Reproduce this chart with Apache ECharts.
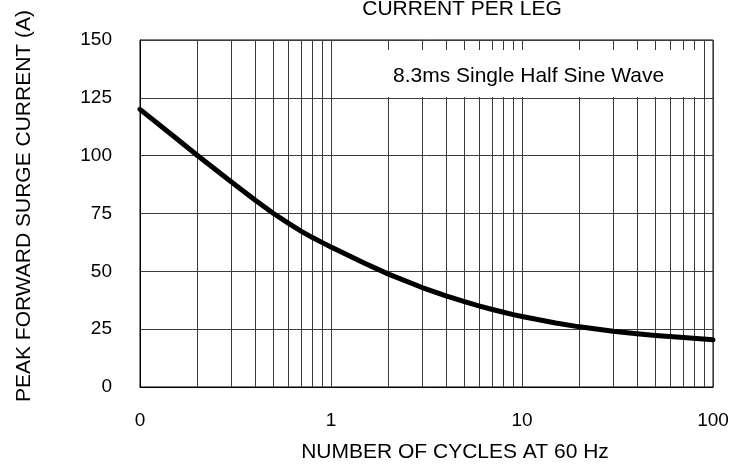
<!DOCTYPE html>
<html>
<head>
<meta charset="utf-8">
<script src="https://cdn.jsdelivr.net/npm/echarts@6/dist/echarts.min.js"></script>
<style>
html,body{margin:0;padding:0;background:#fff;}
#c{width:738px;height:467px;}
</style>
</head>
<body>
<div id="c"></div>
<script>
// Data
var cycles = [0.1, 0.15, 0.2, 0.3, 0.4, 0.5, 0.6, 0.7, 0.8, 0.9, 1, 1.5, 2, 3, 4, 5, 6, 7, 8, 9, 10, 15, 20, 30, 40, 50, 70, 100];
var surgeCurrent = [120, 108.4, 100.1, 88.7, 80.8, 75.0, 70.7, 67.3, 64.6, 62.4, 60.5, 53.5, 48.8, 43.0, 39.4, 36.9, 35.0, 33.5, 32.3, 31.3, 30.5, 27.7, 26.0, 24.1, 23.0, 22.3, 21.35, 20.4];
var minorGridX = [0.2, 0.3, 0.4, 0.5, 0.6, 0.7, 0.8, 0.9, 2, 3, 4, 5, 6, 7, 8, 9, 20, 30, 40, 50, 60, 70, 80, 90];
var yTicks = [0, 25, 50, 75, 100, 125, 150];
var titleText = 'CURRENT PER LEG';
var xName = 'NUMBER OF CYCLES AT 60 Hz';
var yName = 'PEAK FORWARD SURGE CURRENT (A)';
var noteText = '8.3ms Single Half Sine Wave';

var FONT = '"Liberation Sans", Arial, sans-serif';
var GRID_COLOR = '#3a3a3a';

var chart = echarts.init(document.getElementById('c'), null, {renderer: 'canvas'});
var pts = cycles.map(function (c, i) { return [c, surgeCurrent[i]]; });

chart.setOption({
  animation: false,
  backgroundColor: '#fff',
  grid: {left: 140, right: 25, top: 40, bottom: 80, show: true, borderColor: '#000', borderWidth: 1, backgroundColor: 'transparent'},
  xAxis: {
    type: 'log', logBase: 10, min: 0.1, max: 100,
    axisLine: {show: true, lineStyle: {color: '#000', width: 1}},
    axisTick: {show: false},
    axisLabel: {
      show: true, margin: 24, color: '#000', fontSize: 19, fontFamily: FONT,
      showMinLabel: true, showMaxLabel: true,
      formatter: function (v) { return v < 1 ? '0' : String(Math.round(v)); }
    },
    splitLine: {show: true, lineStyle: {color: GRID_COLOR, width: 1}}
  },
  yAxis: {
    type: 'value', min: yTicks[0], max: yTicks[yTicks.length - 1], interval: 25,
    axisLine: {show: true, lineStyle: {color: '#000', width: 1}},
    axisTick: {show: false},
    axisLabel: {margin: 28, color: '#000', fontSize: 19, fontFamily: FONT},
    splitLine: {show: true, lineStyle: {color: GRID_COLOR, width: 1}}
  },
  series: [{
    type: 'line',
    data: pts,
    showSymbol: false,
    smooth: false,
    lineStyle: {color: '#000', width: 5, join: 'round', cap: 'round'},
    z: 5,
    markLine: {
      silent: true,
      symbol: ['none', 'none'],
      label: {show: false},
      lineStyle: {color: GRID_COLOR, width: 1, type: 'solid'},
      z: 1,
      data: minorGridX.map(function (v) { return {xAxis: v}; })
    }
  }],
  graphic: [
    {type: 'rect', z: 100, shape: {x: 340, y: 50, width: 358, height: 47}, style: {fill: '#fff'}},
    {type: 'text', z: 101, x: 393, y: 76, style: {text: noteText, font: '21px ' + FONT, fill: '#000', align: 'left', verticalAlign: 'middle'}},
    {type: 'text', z: 101, x: 462, y: 9, style: {text: titleText, font: '21px ' + FONT, fill: '#000', align: 'center', verticalAlign: 'middle'}},
    {type: 'text', z: 101, x: 455, y: 452.5, style: {text: xName, font: '21px ' + FONT, fill: '#000', align: 'center', verticalAlign: 'middle'}},
    {type: 'text', z: 101, x: 24, y: 206, rotation: Math.PI / 2, style: {text: yName, font: '21px ' + FONT, fill: '#000', align: 'center', verticalAlign: 'middle'}}
  ]
});
</script>
</body>
</html>
